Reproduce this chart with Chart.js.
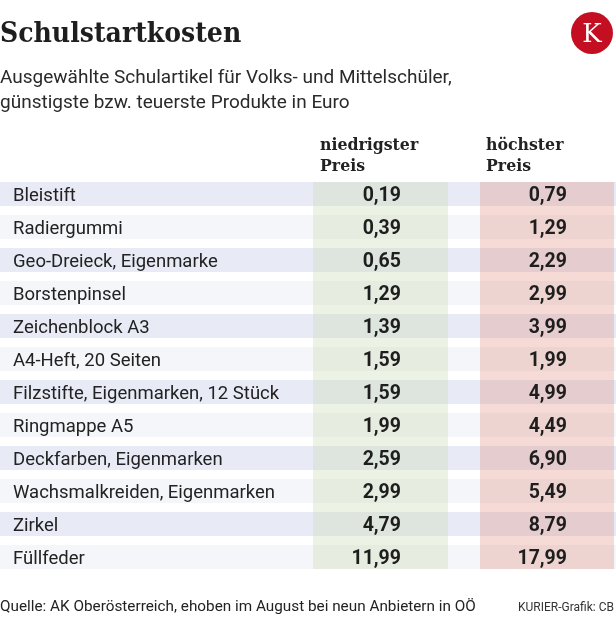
<!DOCTYPE html>
<html>
<head>
<meta charset="utf-8">
<script src="https://cdn.jsdelivr.net/npm/chart.js@4/dist/chart.umd.min.js"></script>
<style>
  html, body { margin: 0; padding: 0; background: #fff; }
  body { width: 616px; height: 618px; position: relative; overflow: hidden; font-family: Roboto, sans-serif; color: #222; }
  #wrap { position: absolute; left: 0; top: 0; width: 616px; height: 618px; }
  .abs { position: absolute; white-space: nowrap; }
  #title { left: 0; top: 16px; font: bold 28px "DejaVu Serif Condensed", "DejaVu Serif", serif; color: #1e1e1e; }
  #sub { left: 0; top: 64px; font-size: 19px; line-height: 25px; color: #2a2a2a; }
  #logo { left: 571px; top: 12px; width: 42px; height: 42px; border-radius: 50%; background: #c40f23;
          color: #fff; font: 26px "DejaVu Serif", serif; text-align: center; line-height: 42px; }
  .head { top: 134px; font: bold 17.5px "DejaVu Serif Condensed", "DejaVu Serif", serif; line-height: 21px; color: #222; }
  #source { left: 0; top: 597px; font-size: 15.3px; color: #222; }
  #credit { right: 2px; top: 600px; font-size: 12px; color: #333; }
</style>
</head>
<body>
<div id="wrap"><canvas id="myChart" width="616" height="618"></canvas></div>
<div class="abs" id="title">Schulstartkosten</div>
<div class="abs" id="logo">K</div>
<div class="abs" id="sub">Ausgewählte Schulartikel für Volks- und Mittelschüler,<br>günstigste bzw. teuerste Produkte in Euro</div>
<div class="abs head" style="left:320px">niedrigster<br>Preis</div>
<div class="abs head" style="left:486px">höchster<br>Preis</div>
<div class="abs" id="source">Quelle: AK Oberösterreich, ehoben im August bei neun Anbietern in OÖ</div>
<div class="abs" id="credit">KURIER-Grafik: CB</div>
<script>
var items = ['Bleistift', 'Radiergummi', 'Geo-Dreieck, Eigenmarke', 'Borstenpinsel', 'Zeichenblock A3',
    'A4-Heft, 20 Seiten', 'Filzstifte, Eigenmarken, 12 Stück', 'Ringmappe A5', 'Deckfarben, Eigenmarken',
    'Wachsmalkreiden, Eigenmarken', 'Zirkel', 'Füllfeder'];
var lowest = [0.19, 0.39, 0.65, 1.29, 1.39, 1.59, 1.59, 1.99, 2.59, 2.99, 4.79, 11.99];
var highest = [0.79, 1.29, 2.29, 2.99, 3.99, 1.99, 4.99, 4.49, 6.90, 5.49, 8.79, 17.99];

// table columns: [left, right, text anchor]
var cols = [
    { x0: 313, x1: 448, tx: 401, fill: 'rgba(198, 218, 172, 0.32)' },
    { x0: 480, x1: 614, tx: 567, fill: 'rgba(222, 132, 115, 0.3)' }
];

function fmt (v) {
    return v.toFixed(2).replace('.', ',');
}

var tablePlugin = {
    id: 'table',
    beforeDatasetsDraw: function (chart) {
        var ctx = chart.ctx;
        var y = chart.scales.y;
        var half = 12;
        ctx.save();
        items.forEach(function (name, i) {
            var yc = y.getPixelForValue(i);
            ctx.fillStyle = i % 2 === 0 ? '#e8ebf6' : '#f5f6fa';
            ctx.fillRect(0, yc - half, 616, half * 2);
        });
        var top = y.getPixelForValue(0) - half;
        var bottom = y.getPixelForValue(items.length - 1) + half;
        cols.forEach(function (c) {
            ctx.fillStyle = c.fill;
            ctx.fillRect(c.x0, top, c.x1 - c.x0, bottom - top);
        });
        ctx.fillStyle = '#222';
        ctx.font = '18.5px Roboto';
        ctx.textBaseline = 'middle';
        ctx.textAlign = 'left';
        items.forEach(function (name, i) {
            ctx.fillText(name, 13, y.getPixelForValue(i) + 2);
        });
        ctx.restore();
    },
    afterDatasetsDraw: function (chart) {
        var ctx = chart.ctx;
        ctx.save();
        ctx.fillStyle = '#1e1e1e';
        ctx.font = 'bold 19.5px Roboto';
        ctx.textBaseline = 'middle';
        ctx.textAlign = 'right';
        chart.data.datasets.forEach(function (ds, d) {
            var meta = chart.getDatasetMeta(d);
            meta.data.forEach(function (bar, i) {
                ctx.fillText(fmt(ds.data[i]), cols[d].tx, bar.y + 2);
            });
        });
        ctx.restore();
    }
};

var ctx = document.getElementById('myChart').getContext('2d');
var myChart = new Chart(ctx, {
    type: 'bar',
    data: {
        labels: items,
        datasets: [{
            label: 'niedrigster Preis',
            data: lowest,
            grouped: false,
            backgroundColor: 'rgba(0, 0, 0, 0)'
        }, {
            label: 'höchster Preis',
            data: highest,
            grouped: false,
            backgroundColor: 'rgba(0, 0, 0, 0)'
        }]
    },
    options: {
        indexAxis: 'y',
        responsive: false,
        animation: false,
        layout: { padding: { top: 177.5, bottom: 44.5, left: 0, right: 0 } },
        plugins: {
            legend: { display: false },
            tooltip: { enabled: false }
        },
        scales: {
            x: { display: false, min: 0, max: 20 },
            y: { display: false }
        }
    },
    plugins: [tablePlugin]
});
</script>
</body>
</html>
